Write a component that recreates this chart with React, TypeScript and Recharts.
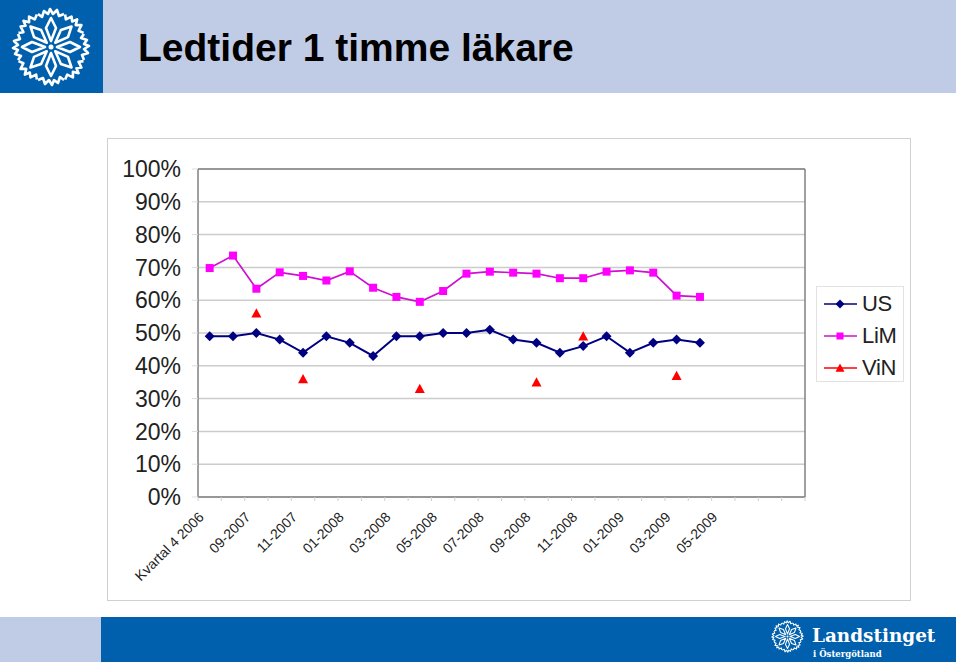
import type { FC } from 'react';
import {
  ComposedChart,
  Line,
  XAxis,
  YAxis,
  CartesianGrid,
  ReferenceLine,
  Legend,
} from 'recharts';

const months = [
  'Kvartal 4 2006', '08-2007', '09-2007', '10-2007', '11-2007', '12-2007',
  '01-2008', '02-2008', '03-2008', '04-2008', '05-2008', '06-2008',
  '07-2008', '08-2008', '09-2008', '10-2008', '11-2008', '12-2008',
  '01-2009', '02-2009', '03-2009', '04-2009', '05-2009', '06-2009',
  '07-2009', '08-2009',
];
const shownLabels = [
  'Kvartal 4 2006', '09-2007', '11-2007', '01-2008', '03-2008', '05-2008',
  '07-2008', '09-2008', '11-2008', '01-2009', '03-2009', '05-2009',
];
const usValues = [49, 49, 50, 48, 44, 49, 47, 43, 49, 49, 50, 50, 51, 48, 47, 44, 46, 49, 44, 47, 48, 47];
const limValues = [69.8, 73.6, 63.5, 68.5, 67.4, 66, 68.8, 63.8, 61, 59.5, 62.8, 68.1, 68.7, 68.4, 68.1, 66.7, 66.7, 68.7, 69.1, 68.4, 61.4, 61];
const vinValues: (number | null)[] = [null, null, 56, null, 36, null, null, null, null, 33, null, null, null, null, 35, null, 49, null, null, null, 37, null];
const yTicks = [0, 10, 20, 30, 40, 50, 60, 70, 80, 90, 100];

const data = months.map((month, i) => ({
  month,
  US: usValues[i] ?? null,
  LiM: limValues[i] ?? null,
  ViN: vinValues[i] ?? null,
}));

const FONT = '"Liberation Sans", Arial, sans-serif';
const SERIF = '"DejaVu Serif", serif';
const CHART_W = 802;
const CHART_H = 461;
const PLOT_LEFT = 90;
const PLOT_RIGHT = 105;
const LEGEND_W = 88;
const BAND = (CHART_W - PLOT_LEFT - PLOT_RIGHT) / months.length;

const NAVY = '#000080';
const MAGENTA = '#ff00ff';
const RED = '#ff0000';
const BLUE = '#0060ad';
const LAVENDER = '#c0cce6';
const AXIS = '#808080';

const Diamond = ({ cx, cy, r = 5 }: { cx: number; cy: number; r?: number }) => (
  <path d={`M${cx} ${cy - r}L${cx + r} ${cy}L${cx} ${cy + r}L${cx - r} ${cy}Z`} fill={NAVY} />
);
const Square = ({ cx, cy, r = 4 }: { cx: number; cy: number; r?: number }) => (
  <rect x={cx - r} y={cy - r} width={r * 2} height={r * 2} fill={MAGENTA} />
);
const Triangle = ({ cx, cy, r = 5 }: { cx: number; cy: number; r?: number }) => (
  <path d={`M${cx} ${cy - r}L${cx + r} ${cy + r * 0.85}L${cx - r} ${cy + r * 0.85}Z`} fill={RED} />
);

const markers: Record<string, FC<{ cx: number; cy: number; r?: number }>> = {
  US: Diamond,
  LiM: Square,
  ViN: Triangle,
};

const dotFor = (name: string) => (props: any) => {
  const Marker = markers[name];
  if (props.value == null || props.cy == null) return <g key={props.key} />;
  return (
    <g key={props.key}>
      <Marker cx={props.cx} cy={props.cy} />
    </g>
  );
};

const MonthTick = (props: any) => {
  const { x, y, payload, index } = props;
  const left = x - BAND / 2;
  const show = shownLabels.includes(payload.value);
  const lx = x - 5;
  const ly = y + 13;
  return (
    <g>
      <line x1={left} x2={left} y1={y - 8} y2={y - 4} stroke="#d0d0d0" />
      {index === months.length - 1 && (
        <line x1={left + BAND} x2={left + BAND} y1={y - 8} y2={y - 4} stroke="#d0d0d0" />
      )}
      {show && (
        <text
          x={lx}
          y={ly}
          textAnchor="end"
          transform={`rotate(-45 ${lx} ${ly})`}
          fontFamily={FONT}
          fontSize={14}
          fill="#222"
        >
          {payload.value}
        </text>
      )}
    </g>
  );
};

const LegendBox = (props: any) => (
  <div
    style={{
      width: LEGEND_W,
      height: 96,
      boxSizing: 'border-box',
      border: '1px solid #e2e2e2',
      background: '#fff',
      paddingTop: 1,
    }}
  >
    {(props.payload ?? []).map((entry: any) => {
      const Marker = markers[entry.value];
      return (
        <div key={entry.value} style={{ display: 'flex', alignItems: 'center', height: 32 }}>
          <svg width={45} height={32} style={{ display: 'block' }}>
            <line x1={7} x2={40} y1={16} y2={16} stroke={entry.color} strokeWidth={1.5} />
            <Marker cx={23} cy={16} r={entry.value === 'LiM' ? 3.5 : 4.5} />
          </svg>
          <span style={{ fontFamily: FONT, fontSize: 22, color: '#222', letterSpacing: -0.3 }}>{entry.value}</span>
        </div>
      );
    })}
  </div>
);

// county flower mark, one petal repeated round the centre
const Flower = ({ size }: { size: number }) => (
  <svg width={size} height={size} viewBox="-40 -40 80 80" style={{ display: 'block' }}>
    <circle r={2.5} fill="#fff" />
    {[0, 45, 90, 135, 180, 225, 270, 315].map((deg) => (
      <g key={deg} transform={`rotate(${deg})`} fill="none" stroke="#fff" strokeWidth={2.6} strokeLinejoin="round">
        <path d="M0 -6L-5 -19L0 -29L5 -19Z" />
        <path d="M-13 -33L-9 -30L-7 -36L-3 -33L-1 -38L2 -33L6 -37L8 -31L13 -33" />
      </g>
    ))}
  </svg>
);

export default function App() {
  return (
    <div style={{ position: 'absolute', left: 0, top: 0, width: 960, height: 664, background: '#fff', overflow: 'hidden' }}>
      {/* header */}
      <div style={{ position: 'absolute', left: 0, top: 0, width: 956, height: 93, background: LAVENDER }} />
      <div style={{ position: 'absolute', left: 0, top: 0, width: 103, height: 93, background: BLUE }} />
      <div style={{ position: 'absolute', left: 11, top: 7 }}>
        <Flower size={80} />
      </div>
      <div style={{ position: 'absolute', left: 138, top: 25, fontFamily: FONT, fontWeight: 700, fontSize: 39, lineHeight: '45px', color: '#000', whiteSpace: 'nowrap' }}>
        Ledtider 1 timme läkare
      </div>

      {/* chart frame */}
      <div style={{ position: 'absolute', left: 108, top: 139, width: CHART_W, height: CHART_H, outline: '1px solid #d0d0d0' }}>
        <ComposedChart
          width={CHART_W}
          height={CHART_H}
          data={data}
          margin={{ top: 30, right: PLOT_RIGHT - LEGEND_W, left: 0, bottom: 0 }}
        >
          <CartesianGrid horizontal vertical={false} stroke="#cccccc" strokeWidth={1.5} />
          <CartesianGrid
            horizontal={false}
            vertical
            verticalPoints={[CHART_W - PLOT_RIGHT]}
            stroke={AXIS}
            strokeWidth={1.5}
          />
          <XAxis
            dataKey="month"
            scale="band"
            interval={0}
            height={103}
            tick={<MonthTick />}
            tickLine={false}
            axisLine={{ stroke: AXIS, strokeWidth: 1.5 }}
          />
          <YAxis
            width={PLOT_LEFT}
            domain={[0, 100]}
            ticks={yTicks}
            interval={0}
            tickFormatter={(v: number) => `${v}%`}
            tick={{ fontFamily: FONT, fontSize: 23, fill: '#222' }}
            tickSize={6}
            tickMargin={11}
            tickLine={{ stroke: '#dddddd' }}
            axisLine={{ stroke: AXIS, strokeWidth: 1.5 }}
          />
          <ReferenceLine y={100} stroke={AXIS} strokeWidth={1.5} />
          <Legend
            layout="vertical"
            align="right"
            verticalAlign="middle"
            itemSorter={null}
            width={LEGEND_W}
            content={<LegendBox />}
            wrapperStyle={{ left: 708, top: 147, width: LEGEND_W, height: 96, bottom: 'auto', right: 'auto' }}
          />
          <Line dataKey="US" stroke={NAVY} strokeWidth={2} dot={dotFor('US')} activeDot={false} isAnimationActive={false} />
          <Line dataKey="LiM" stroke="#d010d0" strokeWidth={1.7} dot={dotFor('LiM')} activeDot={false} isAnimationActive={false} />
          <Line dataKey="ViN" stroke={RED} strokeWidth={0} legendType="line" dot={dotFor('ViN')} activeDot={false} isAnimationActive={false} />
        </ComposedChart>
      </div>

      {/* footer */}
      <div style={{ position: 'absolute', left: 0, top: 617, width: 101, height: 45, background: LAVENDER }} />
      <div style={{ position: 'absolute', left: 101, top: 617, width: 855, height: 45, background: BLUE }} />
      <div style={{ position: 'absolute', left: 771, top: 620 }}>
        <Flower size={33} />
      </div>
      <div style={{ position: 'absolute', left: 812, top: 625, fontFamily: SERIF, fontWeight: 700, fontSize: 18.4, lineHeight: '22px', color: '#fff', whiteSpace: 'nowrap' }}>
        Landstinget
      </div>
      <div style={{ position: 'absolute', left: 813, top: 649, fontFamily: SERIF, fontWeight: 700, fontSize: 8.5, lineHeight: '10px', color: '#fff', whiteSpace: 'nowrap' }}>
        i Östergötland
      </div>
    </div>
  );
}
